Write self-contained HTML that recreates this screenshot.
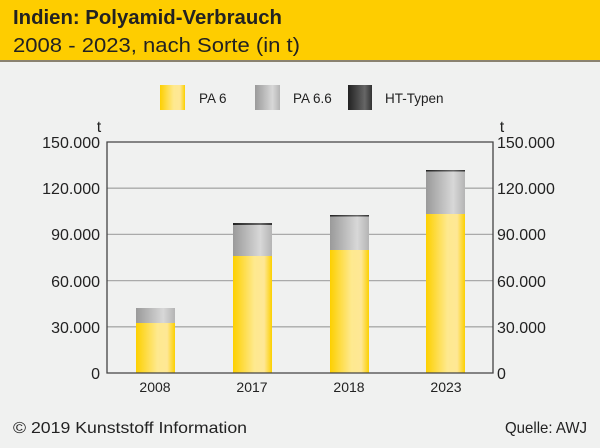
<!DOCTYPE html>
<html><head><meta charset="utf-8"><style>
body{margin:0;width:600px;height:443px;background:#f0f1f0;font-family:"Liberation Sans",sans-serif;overflow:hidden}
</style></head><body>
<svg width="600" height="443" xmlns="http://www.w3.org/2000/svg" font-family="Liberation Sans, sans-serif">
<defs>
<linearGradient id="y" x1="0" x2="1"><stop offset="0" stop-color="#fdd000"/><stop offset="0.55" stop-color="#fee98f"/><stop offset="0.8" stop-color="#fee795"/><stop offset="1" stop-color="#fcd000"/></linearGradient>
<linearGradient id="g" x1="0" x2="1"><stop offset="0" stop-color="#9a9a9a"/><stop offset="0.7" stop-color="#d8d8d8"/><stop offset="1" stop-color="#b4b4b4"/></linearGradient>
<linearGradient id="k" x1="0" x2="1"><stop offset="0" stop-color="#222"/><stop offset="0.7" stop-color="#666"/><stop offset="1" stop-color="#333"/></linearGradient>
</defs>
<rect x="0" y="0" width="600" height="61" fill="#fecd00"/>
<rect x="0" y="60" width="600" height="2" fill="#8a8270"/>
<text x="13" y="24" font-size="20" font-weight="bold" fill="#222" textLength="269" lengthAdjust="spacingAndGlyphs">Indien: Polyamid-Verbrauch</text>
<text x="13" y="52" font-size="20" fill="#222" textLength="287" lengthAdjust="spacingAndGlyphs">2008 - 2023, nach Sorte (in t)</text>
<rect x="160" y="85" width="25" height="25" fill="url(#y)"/>
<text x="199" y="103" font-size="13.5" fill="#222">PA 6</text>
<rect x="255" y="85" width="25" height="25" fill="url(#g)"/>
<text x="293" y="103" font-size="13.5" fill="#222">PA 6.6</text>
<rect x="348" y="85" width="24" height="25" fill="url(#k)"/>
<text x="385" y="103" font-size="13.5" fill="#222">HT-Typen</text>
<text x="99" y="132" font-size="16" fill="#222" text-anchor="middle">t</text>
<text x="502" y="132" font-size="16" fill="#222" text-anchor="middle">t</text>
<g stroke="#aaa" stroke-width="1.3">
<line x1="107" x2="493" y1="188.2" y2="188.2"/><line x1="107" x2="493" y1="234.4" y2="234.4"/><line x1="107" x2="493" y1="280.6" y2="280.6"/><line x1="107" x2="493" y1="326.8" y2="326.8"/>
</g>
<rect x="136" y="323" width="39" height="50" fill="url(#y)"/>
<rect x="136" y="308" width="39" height="15" fill="url(#g)"/>
<rect x="233" y="256" width="39" height="117" fill="url(#y)"/>
<rect x="233" y="225" width="39" height="31" fill="url(#g)"/>
<rect x="233" y="223" width="39" height="2" fill="url(#k)"/>
<rect x="330" y="250" width="39" height="123" fill="url(#y)"/>
<rect x="330" y="216.5" width="39" height="33.5" fill="url(#g)"/>
<rect x="330" y="215" width="39" height="1.5" fill="url(#k)"/>
<rect x="426" y="214" width="39" height="159" fill="url(#y)"/>
<rect x="426" y="171.5" width="39" height="42.5" fill="url(#g)"/>
<rect x="426" y="170" width="39" height="1.5" fill="url(#k)"/>
<path d="M107 373V142H493V373Z" fill="none" stroke="#444" stroke-width="1.3"/>
<g font-size="16" fill="#222" text-anchor="end">
<text x="100" y="148">150.000</text><text x="100" y="194">120.000</text><text x="100" y="240">90.000</text><text x="100" y="287">60.000</text><text x="100" y="333">30.000</text><text x="100" y="379">0</text>
</g>
<g font-size="16" fill="#222">
<text x="497" y="148">150.000</text><text x="497" y="194">120.000</text><text x="497" y="240">90.000</text><text x="497" y="287">60.000</text><text x="497" y="333">30.000</text><text x="497" y="379">0</text>
</g>
<g font-size="14" fill="#222" text-anchor="middle">
<text x="155" y="392">2008</text><text x="252" y="392">2017</text><text x="349" y="392">2018</text><text x="446" y="392">2023</text>
</g>
<text x="13" y="433" font-size="16" fill="#222" textLength="234" lengthAdjust="spacingAndGlyphs">© 2019 Kunststoff Information</text>
<text x="505" y="433" font-size="16" fill="#222" textLength="82" lengthAdjust="spacingAndGlyphs">Quelle: AWJ</text>
</svg>
</body></html>
